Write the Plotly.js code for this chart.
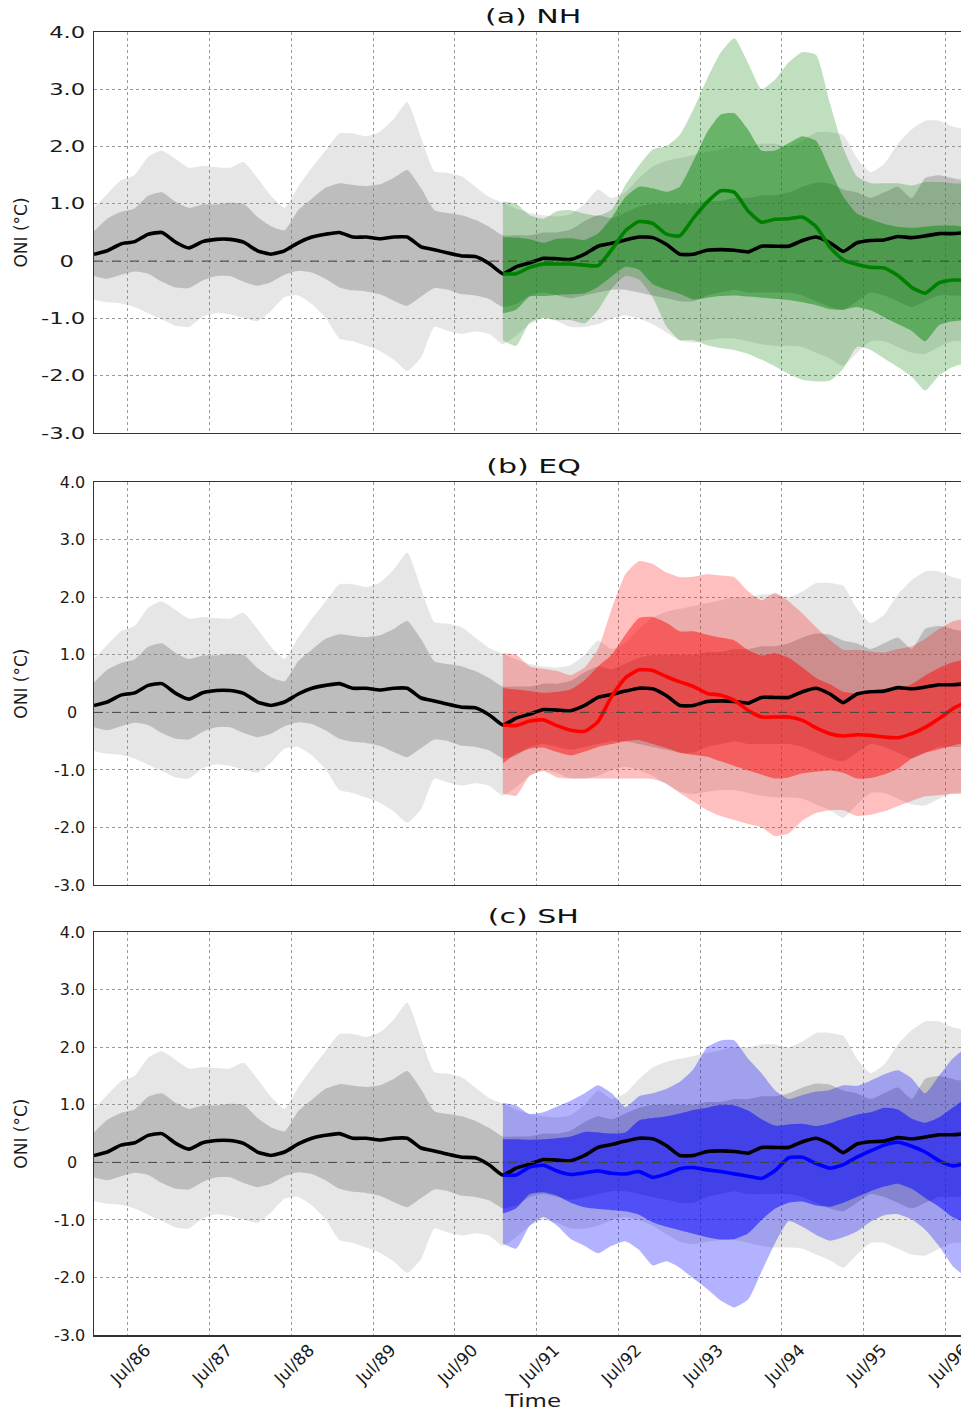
<!DOCTYPE html>
<html>
<head>
<meta charset="utf-8">
<script src="https://cdn.plot.ly/plotly-3.0.1.min.js"></script>
<style>
html, body { margin: 0; padding: 0; overflow: hidden; background: #ffffff; }
#chart { width: 975px; height: 1411px; }
</style>
</head>
<body>
<div id="chart"></div>
<script>
// ---------- time axis (2-month sampling, Feb 1986 .. Oct 1996) ----------
const dates = [
 '1986-02','1986-04','1986-06','1986-08','1986-10','1986-12',
 '1987-02','1987-04','1987-06','1987-08','1987-10','1987-12',
 '1988-02','1988-04','1988-06','1988-08','1988-10','1988-12',
 '1989-02','1989-04','1989-06','1989-08','1989-10','1989-12',
 '1990-02','1990-04','1990-06','1990-08','1990-10','1990-12',
 '1991-02','1991-04','1991-06','1991-08','1991-10','1991-12',
 '1992-02','1992-04','1992-06','1992-08','1992-10','1992-12',
 '1993-02','1993-04','1993-06','1993-08','1993-10','1993-12',
 '1994-02','1994-04','1994-06','1994-08','1994-10','1994-12',
 '1995-02','1995-04','1995-06','1995-08','1995-10','1995-12',
 '1996-02','1996-04','1996-06','1996-08','1996-10'
];
// forecast period starts Feb 1991
const fcDates = dates.slice(30);

const tickDates = ['1986-07-01','1987-07-01','1988-07-01','1989-07-01','1990-07-01','1991-07-01',
                   '1992-07-01','1993-07-01','1994-07-01','1995-07-01','1996-07-01'];
const tickLabels = ['Jul/86','Jul/87','Jul/88','Jul/89','Jul/90','Jul/91','Jul/92','Jul/93','Jul/94','Jul/95','Jul/96'];
const yTickVals = [-3, -2, -1, 0, 1, 2, 3, 4];
const yTickText = ['-3.0', '-2.0', '-1.0', '0\u2002', '1.0', '2.0', '3.0', '4.0'];
const panelTitles = ['(a) NH', '(b) EQ', '(c) SH'];

// ---------- observed / reference ONI (gray) ----------
const obsMean = [0.12,0.18,0.30,0.34,0.47,0.50,0.33,0.23,0.34,0.38,
 0.38,0.33,0.18,0.12,0.18,0.32,0.42,0.47,0.50,0.42,
 0.42,0.39,0.42,0.42,0.25,0.20,0.14,0.09,0.08,-0.04,
 -0.22,-0.10,-0.03,0.05,0.04,0.03,0.12,0.26,0.31,0.37,
 0.42,0.41,0.29,0.12,0.12,0.19,0.20,0.19,0.16,0.26,
 0.26,0.26,0.36,0.42,0.32,0.17,0.32,0.36,0.37,0.43,
 0.41,0.44,0.48,0.48,0.50];
const obsMax = [0.93,1.17,1.41,1.50,1.82,1.93,1.78,1.63,1.66,1.64,
 1.63,1.73,1.45,1.14,0.93,1.30,1.63,1.93,2.23,2.23,
 2.18,2.26,2.48,2.78,2.15,1.57,1.54,1.48,1.30,1.12,
 1.02,0.92,0.84,0.80,0.78,0.82,1.00,1.25,1.10,1.20,
 1.45,1.65,1.75,1.80,1.85,1.90,1.95,2.00,2.00,2.05,
 2.05,2.00,2.10,2.25,2.25,2.20,1.80,1.55,1.70,2.05,
 2.30,2.45,2.45,2.35,2.30];
const obsHi = [0.52,0.74,0.86,0.92,1.14,1.20,1.03,0.93,0.99,0.99,
 1.02,1.00,0.77,0.61,0.54,0.89,1.09,1.28,1.36,1.33,
 1.31,1.34,1.45,1.59,1.27,0.89,0.84,0.80,0.72,0.60,
 0.45,0.45,0.45,0.50,0.50,0.55,0.70,0.80,0.75,0.85,
 0.95,1.00,1.00,1.00,1.00,1.05,1.05,1.10,1.10,1.15,
 1.15,1.20,1.30,1.37,1.35,1.25,1.20,1.10,1.20,1.30,
 1.10,1.45,1.50,1.45,1.40];
const obsLo = [-0.26,-0.31,-0.24,-0.18,-0.22,-0.36,-0.46,-0.47,-0.34,-0.26,
 -0.26,-0.36,-0.43,-0.37,-0.24,-0.17,-0.20,-0.31,-0.46,-0.51,
 -0.53,-0.58,-0.69,-0.78,-0.62,-0.47,-0.50,-0.58,-0.60,-0.66,
 -0.80,-0.75,-0.60,-0.55,-0.60,-0.65,-0.60,-0.55,-0.50,-0.50,
 -0.55,-0.60,-0.65,-0.70,-0.70,-0.60,-0.55,-0.50,-0.55,-0.55,
 -0.55,-0.55,-0.60,-0.70,-0.80,-0.85,-0.70,-0.55,-0.60,-0.70,
 -0.80,-0.70,-0.60,-0.60,-0.60];
const obsMin = [-0.67,-0.72,-0.74,-0.80,-0.91,-1.02,-1.13,-1.15,-0.97,-0.90,
 -0.93,-0.99,-1.05,-0.87,-0.63,-0.60,-0.75,-0.99,-1.35,-1.40,
 -1.48,-1.57,-1.72,-1.92,-1.68,-1.15,-1.22,-1.27,-1.23,-1.27,
 -1.45,-1.30,-1.10,-1.00,-1.05,-1.15,-1.15,-1.10,-1.00,-0.95,
 -1.00,-1.10,-1.25,-1.38,-1.42,-1.38,-1.35,-1.35,-1.40,-1.45,
 -1.48,-1.48,-1.50,-1.60,-1.70,-1.83,-1.60,-1.40,-1.40,-1.50,
 -1.60,-1.62,-1.50,-1.40,-1.40];

// ---------- (a) NH ----------
const nhMean = [-0.22,-0.22,-0.11,-0.05,-0.05,-0.05,-0.07,-0.08,0.20,0.53,
 0.69,0.66,0.47,0.44,0.75,1.03,1.23,1.20,0.87,0.68,
 0.73,0.74,0.77,0.60,0.24,0.02,-0.06,-0.11,-0.12,-0.25,
 -0.46,-0.56,-0.38,-0.33,-0.34];
const nhMax = [1.04,1.00,0.80,0.74,0.87,0.89,0.83,0.79,0.90,1.33,
 1.67,1.95,2.01,2.20,2.65,3.18,3.64,3.89,3.45,3.00,
 3.17,3.47,3.65,3.60,2.75,1.98,1.48,1.36,1.36,1.36,
 1.32,1.38,1.38,1.36,1.35];
const nhHi = [0.42,0.41,0.38,0.32,0.39,0.40,0.37,0.48,0.76,1.12,
 1.30,1.27,1.21,1.30,1.75,2.25,2.56,2.58,2.29,1.93,
 1.93,2.06,2.18,2.10,1.60,1.13,0.83,0.73,0.65,0.60,
 0.58,0.60,0.62,0.62,0.60];
const nhLo = [-0.91,-0.85,-0.62,-0.61,-0.59,-0.58,-0.56,-0.45,-0.27,-0.10,
 -0.15,-0.40,-0.50,-0.57,-0.67,-0.64,-0.61,-0.60,-0.62,-0.64,
 -0.66,-0.68,-0.72,-0.77,-0.84,-0.85,-0.80,-0.86,-0.98,-1.10,
 -1.22,-1.40,-1.12,-1.05,-1.03];
const nhMin = [-1.38,-1.48,-1.07,-0.99,-1.03,-1.03,-1.09,-0.86,-0.48,-0.26,
 -0.32,-0.63,-1.14,-1.38,-1.38,-1.47,-1.52,-1.55,-1.62,-1.72,
 -1.84,-1.97,-2.07,-2.10,-2.09,-1.88,-1.50,-1.55,-1.70,-1.85,
 -2.02,-2.26,-2.00,-1.85,-1.78];

// ---------- (b) EQ ----------
const eqMean = [-0.22,-0.23,-0.15,-0.13,-0.23,-0.31,-0.33,-0.16,0.28,0.60,
 0.74,0.73,0.62,0.53,0.45,0.33,0.30,0.21,0.03,-0.08,
 -0.08,-0.08,-0.14,-0.27,-0.37,-0.41,-0.39,-0.40,-0.43,-0.44,
 -0.37,-0.26,-0.11,0.06,0.18];
const eqMax = [1.03,1.00,0.80,0.76,0.72,0.65,0.78,1.10,1.80,2.40,
 2.63,2.58,2.43,2.35,2.36,2.40,2.38,2.35,2.10,1.95,
 2.08,1.93,1.72,1.48,1.26,1.09,1.09,1.06,1.04,1.10,
 1.15,1.28,1.45,1.58,1.63];
const eqHi = [0.42,0.40,0.37,0.34,0.36,0.40,0.56,0.80,1.00,1.35,
 1.64,1.66,1.56,1.41,1.41,1.35,1.30,1.25,1.08,0.99,
 1.03,0.95,0.78,0.60,0.49,0.36,0.33,0.33,0.35,0.40,
 0.49,0.64,0.77,0.87,0.93];
const eqLo = [-0.89,-0.72,-0.63,-0.61,-0.69,-0.75,-0.68,-0.60,-0.55,-0.50,
 -0.48,-0.55,-0.62,-0.70,-0.74,-0.77,-0.85,-0.93,-1.01,-1.08,
 -1.15,-1.13,-1.06,-1.03,-1.01,-1.05,-1.15,-1.14,-1.08,-0.98,
 -0.80,-0.70,-0.64,-0.58,-0.52];
const eqMin = [-1.41,-1.45,-1.10,-1.02,-1.13,-1.15,-1.15,-1.15,-1.15,-1.15,
 -1.15,-1.16,-1.24,-1.40,-1.55,-1.70,-1.80,-1.87,-1.94,-2.00,
 -2.15,-2.10,-1.88,-1.75,-1.70,-1.70,-1.80,-1.78,-1.72,-1.63,
 -1.54,-1.46,-1.44,-1.42,-1.41];

// ---------- (c) SH ----------
const shMean = [-0.22,-0.22,-0.08,-0.05,-0.15,-0.21,-0.18,-0.15,-0.19,-0.20,
 -0.16,-0.26,-0.20,-0.11,-0.09,-0.13,-0.16,-0.20,-0.24,-0.28,
 -0.14,0.08,0.09,-0.02,-0.10,-0.04,0.09,0.20,0.30,0.35,
 0.28,0.18,0.03,-0.06,-0.02];
const shMax = [1.03,0.99,0.84,0.87,0.97,1.07,1.20,1.34,1.20,0.96,
 1.15,1.20,1.28,1.40,1.62,2.00,2.12,2.12,1.80,1.55,
 1.25,1.10,1.17,1.23,1.26,1.34,1.33,1.42,1.53,1.60,
 1.46,1.20,1.50,1.80,2.00];
const shHi = [0.40,0.40,0.39,0.40,0.42,0.45,0.53,0.52,0.50,0.52,
 0.73,0.77,0.80,0.85,0.91,0.95,1.00,0.99,0.90,0.75,
 0.64,0.66,0.67,0.63,0.68,0.76,0.83,0.87,0.95,0.92,
 0.76,0.69,0.78,0.95,1.12];
const shLo = [-0.89,-0.80,-0.55,-0.52,-0.58,-0.70,-0.78,-0.81,-0.83,-0.85,
 -0.91,-1.04,-1.12,-1.18,-1.24,-1.30,-1.34,-1.33,-1.23,-1.00,
 -0.80,-0.70,-0.68,-0.75,-0.77,-0.70,-0.60,-0.50,-0.42,-0.37,
 -0.46,-0.62,-0.77,-0.95,-1.05];
const shMin = [-1.41,-1.50,-1.10,-0.95,-1.10,-1.33,-1.45,-1.58,-1.45,-1.37,
 -1.52,-1.79,-1.72,-1.83,-2.02,-2.20,-2.40,-2.52,-2.38,-1.90,
 -1.40,-1.02,-1.12,-1.26,-1.36,-1.30,-1.20,-1.03,-0.92,-0.90,
 -0.99,-1.17,-1.45,-1.80,-2.00];

// ---------- build traces ----------
const panels = [
  {mean: nhMean, max: nhMax, hi: nhHi, lo: nhLo, min: nhMin, line: '#008000', outer: 'rgba(0,128,0,0.25)', inner: 'rgba(0,128,0,0.45)'},
  {mean: eqMean, max: eqMax, hi: eqHi, lo: eqLo, min: eqMin, line: '#ff0000', outer: 'rgba(255,0,0,0.25)', inner: 'rgba(255,0,0,0.45)'},
  {mean: shMean, max: shMax, hi: shHi, lo: shLo, min: shMin, line: '#0000ff', outer: 'rgba(0,0,255,0.30)', inner: 'rgba(0,0,255,0.50)'}
];
const SPL = {shape: 'spline', smoothing: 0.5};

function band(x, lo, hi, color, xa, ya) {
  return [
    {type: 'scatter', x: x, y: lo, xaxis: xa, yaxis: ya, mode: 'lines',
     line: Object.assign({width: 0}, SPL), hoverinfo: 'skip', showlegend: false},
    {type: 'scatter', x: x, y: hi, xaxis: xa, yaxis: ya, mode: 'lines',
     line: Object.assign({width: 0}, SPL), fill: 'tonexty', fillcolor: color, hoverinfo: 'skip', showlegend: false}
  ];
}
function meanLine(x, y, color, xa, ya) {
  return {type: 'scatter', x: x, y: y, xaxis: xa, yaxis: ya, mode: 'lines',
          line: Object.assign({width: 3.6, color: color}, SPL), hoverinfo: 'skip', showlegend: false};
}

const traces = [];
panels.forEach((p, i) => {
  const xa = i === 0 ? 'x' : 'x' + (i + 1);
  const ya = i === 0 ? 'y' : 'y' + (i + 1);
  traces.push(...band(dates, obsMin, obsMax, 'rgba(128,128,128,0.2)', xa, ya));
  traces.push(...band(dates, obsLo, obsHi, 'rgba(128,128,128,0.4)', xa, ya));
  traces.push(...band(fcDates, p.min, p.max, p.outer, xa, ya));
  traces.push(...band(fcDates, p.lo, p.hi, p.inner, xa, ya));
  traces.push(meanLine(dates, obsMean, '#000000', xa, ya));
  traces.push(meanLine(fcDates, p.mean, p.line, xa, ya));
});

// ---------- layout ----------
const FONT = 'DejaVu Sans';
const domains = [[0.6923, 1.0], [0.3454, 0.6544], [0.0, 0.3091]];

const xBase = {
  type: 'date', range: ['1986-02-01', '1996-10-27'],
  tickmode: 'array', tickvals: tickDates, ticktext: tickLabels,
  showgrid: true, gridcolor: '#9a9a9a', griddash: 'dot', gridwidth: 1,
  zeroline: false, showline: true, linecolor: '#333333', linewidth: 1.5, mirror: true,
  ticks: '', fixedrange: true
};
const yBase = {
  range: [-3, 4], tickmode: 'array', tickvals: yTickVals, ticktext: yTickText,
  showgrid: true, gridcolor: '#9a9a9a', griddash: 'dot', gridwidth: 1,
  zeroline: false, showline: true, linecolor: '#333333', linewidth: 1.5, mirror: false,
  ticks: '', ticklabelstandoff: 4,
  tickfont: {family: FONT, size: 16, color: '#1a1a1a'},
  title: {text: 'ONI (°C)', font: {family: FONT, size: 17, color: '#1a1a1a'}, standoff: 22},
  fixedrange: true
};

const layout = {
  width: 975, height: 1411,
  margin: {l: 94, r: 3, t: 32, b: 76},
  paper_bgcolor: '#ffffff', plot_bgcolor: '#ffffff',
  showlegend: false,
  font: {family: FONT, color: '#1a1a1a'},
  xaxis: Object.assign({}, xBase, {anchor: 'y', showticklabels: false}),
  xaxis2: Object.assign({}, xBase, {anchor: 'y2', matches: 'x', showticklabels: false}),
  xaxis3: Object.assign({}, xBase, {
    anchor: 'y3', matches: 'x', showticklabels: true, tickangle: -45,
    tickfont: {family: FONT, size: 17, color: '#1a1a1a'},
    ticklabelshift: 18, ticklabelstandoff: -3, ticklabeloverflow: 'allow',
    title: {text: 'Time', font: {family: FONT, size: 17, color: '#1a1a1a'}, standoff: 7}
  }),
  yaxis: Object.assign({}, yBase, {anchor: 'x', domain: domains[0]}),
  yaxis2: Object.assign({}, yBase, {anchor: 'x2', domain: domains[1]}),
  yaxis3: Object.assign({}, yBase, {anchor: 'x3', domain: domains[2]}),
  shapes: ['y', 'y2', 'y3'].map(ya => ({
    type: 'line', xref: 'paper', x0: 0, x1: 1, yref: ya, y0: 0, y1: 0,
    line: {color: '#444444', width: 1, dash: 'dash'}, layer: 'above'
  })),
  annotations: panelTitles.map((t, i) => ({
    text: t, xref: 'paper', yref: 'paper', x: 0.5, y: domains[i][1],
    xanchor: 'center', yanchor: 'bottom', yshift: 2, showarrow: false,
    font: {family: FONT, size: 20, color: '#111111'}
  }))
};

Plotly.newPlot('chart', traces, layout, {staticPlot: true, displayModeBar: false}).then(gd => {
  // the reference image is horizontally stretched: widen horizontal text glyphs to match
  const stretch = (sel, f) => gd.querySelectorAll(sel).forEach(t => {
    const w = t.getComputedTextLength();
    if (w > 0) {
      t.setAttribute('textLength', (w * f).toFixed(1));
      t.setAttribute('lengthAdjust', 'spacingAndGlyphs');
    }
  });
  stretch('.ytick text', 1.42);
  stretch('.annotation-text', 1.5);
  stretch('.x3title', 1.35);
});
</script>
</body>
</html>
